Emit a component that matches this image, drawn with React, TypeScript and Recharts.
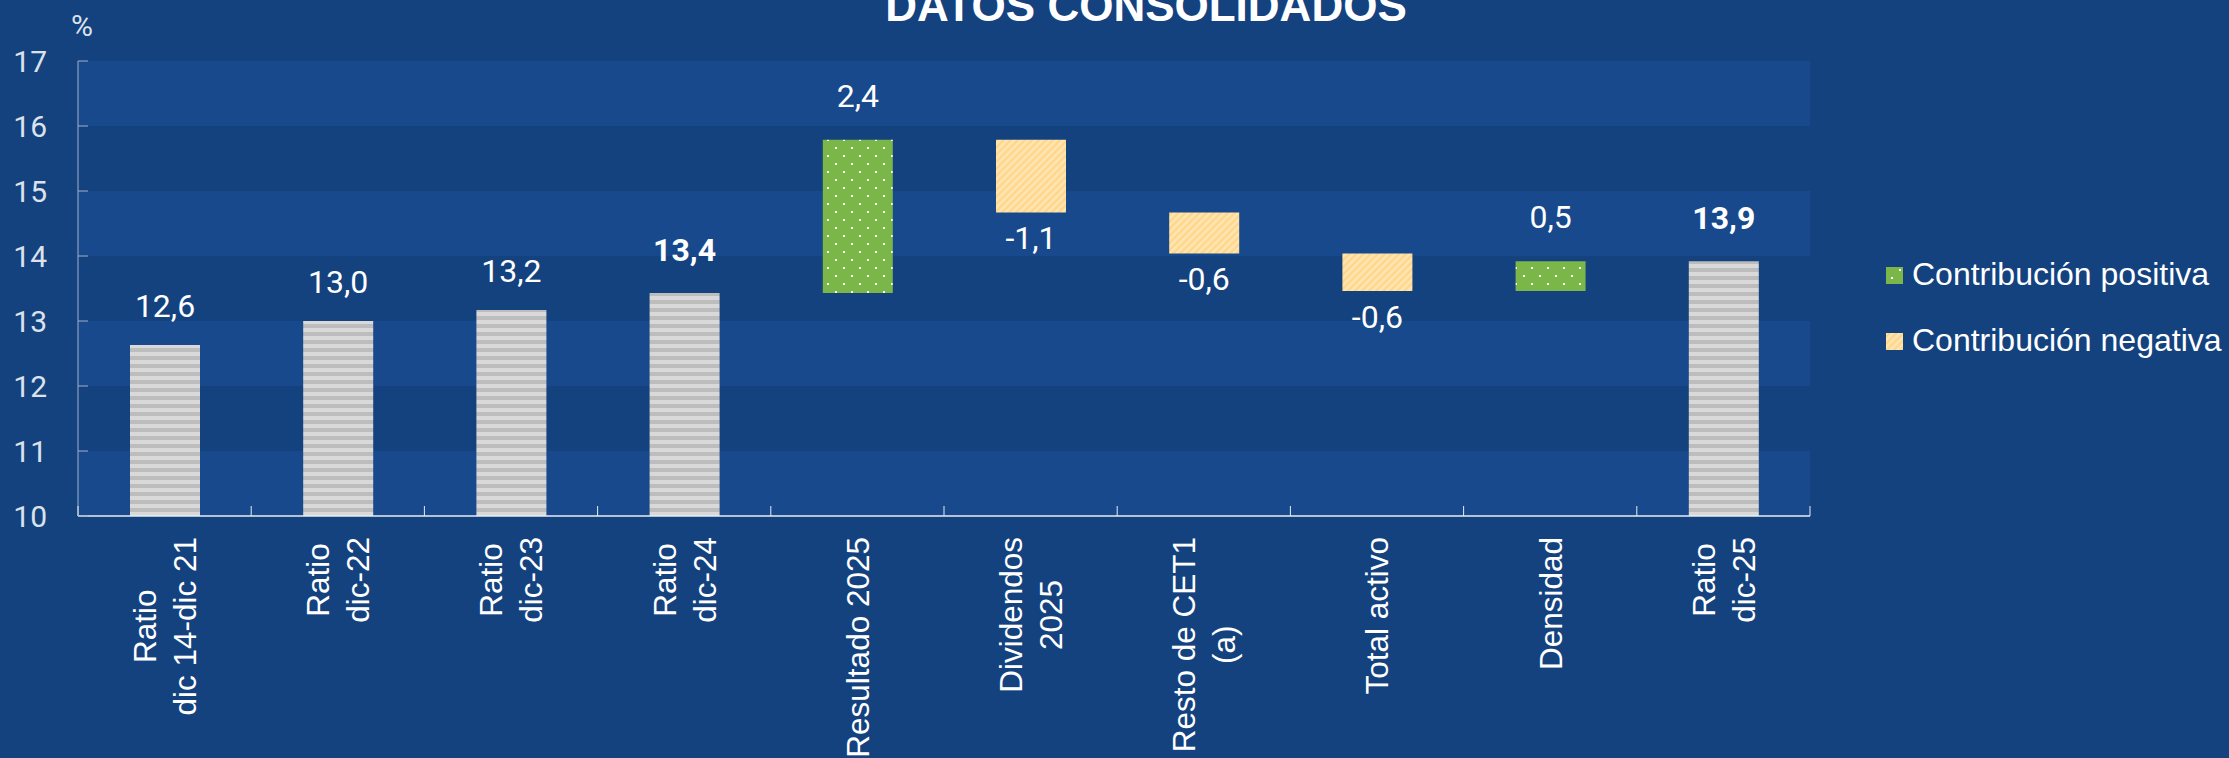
import React from "react";
import { BarChart, Bar, XAxis, YAxis, Cell, LabelList, ReferenceArea, Legend } from "recharts";

if (typeof document !== "undefined") {
  document.body.style.margin = "0";
}

// ---------- data ----------
const categories: string[] = [
  "Ratio\ndic 14-dic 21",
  "Ratio\ndic-22",
  "Ratio\ndic-23",
  "Ratio\ndic-24",
  "Resultado 2025",
  "Dividendos\n2025",
  "Resto de CET1\n(a)",
  "Total activo",
  "Densidad",
  "Ratio\ndic-25",
];
const ratioValues: (number | null)[] = [12.63, 13.0, 13.17, 13.43, null, null, null, null, null, 13.92];
const contributionValues: (number | null)[] = [null, null, null, null, 2.36, -1.12, -0.63, -0.58, 0.46, null];
const highlighted: boolean[] = [false, false, false, true, false, false, false, false, false, true];
const yTicks: number[] = [10, 11, 12, 13, 14, 15, 16, 17];
const lighterBands: [number, number][] = [
  [10, 11],
  [12, 13],
  [14, 15],
  [16, 17],
];
const legendItems = [
  { label: "Contribución positiva", kind: "pos" },
  { label: "Contribución negativa", kind: "neg" },
];
const TITLE = "DATOS CONSOLIDADOS";
const UNIT = "%";

// ---------- layout / style ----------
const W = 2229;
const H = 758;
const Y_MIN = 10;
const Y_MAX = 17;
const MARGIN = { top: 61, right: 419, bottom: 42, left: 18 };
const Y_AXIS_W = 60;
const X_AXIS_H = 200;
const PLOT_LEFT = MARGIN.left + Y_AXIS_W;
const PLOT_RIGHT = W - MARGIN.right;
const BAND_HALF = (PLOT_RIGHT - PLOT_LEFT) / categories.length / 2;

const BG = "#14427F";
const BAND = "#17498C";
const Y_AXIS_COLOR = "#9FB0CB";
const X_AXIS_COLOR = "#E8ECF2";
const TICK_TEXT = "#DCE2EC";
const ROBOTO = "Roboto, 'Liberation Sans', sans-serif";
const ARIAL = "'Liberation Sans', Arial, Helvetica, sans-serif";
const X_FONT_SIZE = 31.5;
const X_LINE_STEP = 40;

const fillFor: Record<string, string> = {
  ratio: "url(#grayStripes)",
  pos: "url(#greenDots)",
  neg: "url(#orangeDiag)",
};

const fmt = (v: number) => v.toFixed(1).replace(".", ",");

type Row = { name: string; range: [number, number]; kind: string; text: string; bold: boolean };

const rows: Row[] = (() => {
  let running = 0;
  return categories.map((name, i) => {
    const r = ratioValues[i];
    const c = contributionValues[i];
    if (r != null) {
      running = r;
      return { name, range: [Y_MIN, r] as [number, number], kind: "ratio", text: fmt(r), bold: highlighted[i] };
    }
    const delta = c as number;
    const lo = Math.min(running, running + delta);
    const hi = Math.max(running, running + delta);
    running += delta;
    return { name, range: [lo, hi] as [number, number], kind: delta >= 0 ? "pos" : "neg", text: fmt(delta), bold: highlighted[i] };
  });
})();

let measureCtx: CanvasRenderingContext2D | null = null;
const measure = (s: string) => {
  if (!measureCtx && typeof document !== "undefined") {
    measureCtx = document.createElement("canvas").getContext("2d");
  }
  if (measureCtx) {
    measureCtx.font = `${X_FONT_SIZE}px ${ARIAL}`;
    return measureCtx.measureText(s).width;
  }
  return s.length * X_FONT_SIZE * 0.52;
};

const XTick = (props: any) => {
  const { x, y, payload, index } = props;
  const value = String(payload?.value ?? "");
  const lines = value.split("\n");
  const n = lines.length;
  const maxW = Math.max(...lines.map(measure));
  const cy = y + 21 + maxW / 2;
  const isLast = index === categories.length - 1 || value === categories[categories.length - 1];
  return (
    <g>
      <line x1={x - BAND_HALF} x2={x - BAND_HALF} y1={y} y2={y - 10} stroke={X_AXIS_COLOR} strokeWidth={1} />
      {isLast && <line x1={x + BAND_HALF} x2={x + BAND_HALF} y1={y} y2={y - 10} stroke={X_AXIS_COLOR} strokeWidth={1} />}
      {lines.map((l, i) => {
        const bx = x + (i - (n - 1) / 2) * X_LINE_STEP + X_FONT_SIZE * 0.36;
        return (
          <text
            key={i}
            transform={`translate(${bx},${cy}) rotate(-90)`}
            textAnchor="middle"
            fontFamily={ARIAL}
            fontSize={X_FONT_SIZE}
            fill="#FFFFFF"
          >
            {l}
          </text>
        );
      })}
    </g>
  );
};

const YTick = (props: any) => {
  const { x, y, payload } = props;
  return (
    <g>
      <line x1={x} x2={x + 10} y1={y} y2={y} stroke={Y_AXIS_COLOR} strokeWidth={1} />
      <text x={x - 31} y={y} dy="0.355em" textAnchor="end" fontFamily={ROBOTO} fontSize={30} fill={TICK_TEXT}>
        {payload.value}
      </text>
    </g>
  );
};

const BarLabel = (props: any) => {
  const { x, y, width, height, index } = props;
  const row = rows[index];
  if (!row) return null;
  const top = Math.min(y, y + height);
  const bottom = Math.max(y, y + height);
  const cx = x + width / 2;
  let ty: number;
  if (row.kind === "neg") ty = bottom + 37;
  else if (row.kind === "pos") ty = top - 33;
  else ty = top - (row.bold ? 32 : 28);
  return (
    <text x={cx} y={ty} textAnchor="middle" fontFamily={ROBOTO} fontSize={32} fontWeight={row.bold ? 700 : 400} fill="#FFFFFF">
      {row.text}
    </text>
  );
};

const LegendContent = () => (
  <svg width={349} height={120} style={{ display: "block", overflow: "visible" }}>
    {legendItems.map((it, i) => (
      <g key={it.label} transform={`translate(0, ${i * 66})`}>
        <rect x={6} y={17} width={17} height={17} fill={fillFor[it.kind]} />
        <text x={32} y={35} fontFamily={ARIAL} fontSize={32} fill="#FFFFFF">
          {it.label}
        </text>
      </g>
    ))}
  </svg>
);

export default function App() {
  return (
    <div style={{ position: "relative", width: W, height: H, background: BG, overflow: "hidden" }}>
      <BarChart width={W} height={H} data={rows} margin={MARGIN} barSize={70}>
        <defs>
          <pattern id="grayStripes" patternUnits="userSpaceOnUse" width={8} height={8}>
            <rect width={8} height={8} fill="#BDBDBD" />
            <rect width={8} height={4} fill="#D9D9D9" />
          </pattern>
          <pattern id="greenDots" patternUnits="userSpaceOnUse" width={16} height={16}>
            <rect width={16} height={16} fill="#7AB648" />
            <rect x={3} y={3} width={2} height={2} fill="#FFFFFF" />
            <rect x={11} y={11} width={2} height={2} fill="#FFFFFF" />
          </pattern>
          <pattern id="orangeDiag" patternUnits="userSpaceOnUse" width={5} height={5} patternTransform="rotate(45)">
            <rect width={5} height={5} fill="#FFD68A" />
            <rect width={2.5} height={5} fill="#FFE6B4" />
          </pattern>
        </defs>
        {lighterBands.map(([a, b]) => (
          <ReferenceArea key={a} y1={a} y2={b} fill={BAND} fillOpacity={1} stroke="none" ifOverflow="visible" />
        ))}
        <XAxis
          dataKey="name"
          interval={0}
          height={X_AXIS_H}
          tickSize={0}
          tickMargin={0}
          tickLine={false}
          axisLine={{ stroke: X_AXIS_COLOR, strokeWidth: 1.5 }}
          tick={<XTick />}
        />
        <YAxis
          domain={[Y_MIN, Y_MAX]}
          ticks={yTicks}
          width={Y_AXIS_W}
          tickSize={0}
          tickMargin={0}
          tickLine={false}
          axisLine={{ stroke: Y_AXIS_COLOR, strokeWidth: 1 }}
          tick={<YTick />}
          interval={0}
        />
        <Legend
          layout="vertical"
          align="center"
          verticalAlign="middle"
          content={<LegendContent />}
          wrapperStyle={{ left: 1880, top: 250, width: 349, height: 120 }}
        />
        <Bar dataKey="range" isAnimationActive={false}>
          {rows.map((r) => (
            <Cell key={r.name} fill={fillFor[r.kind]} />
          ))}
          <LabelList dataKey="text" content={<BarLabel />} />
        </Bar>
      </BarChart>
      <svg width={W} height={H} style={{ position: "absolute", left: 0, top: 0, pointerEvents: "none" }}>
        <text x={1146} y={21} textAnchor="middle" fontFamily={ARIAL} fontWeight={700} fontSize={44} fill="#FFFFFF">
          {TITLE}
        </text>
        <text x={82} y={36} textAnchor="middle" fontFamily={ROBOTO} fontSize={30} fill={TICK_TEXT}>
          {UNIT}
        </text>
      </svg>
    </div>
  );
}
